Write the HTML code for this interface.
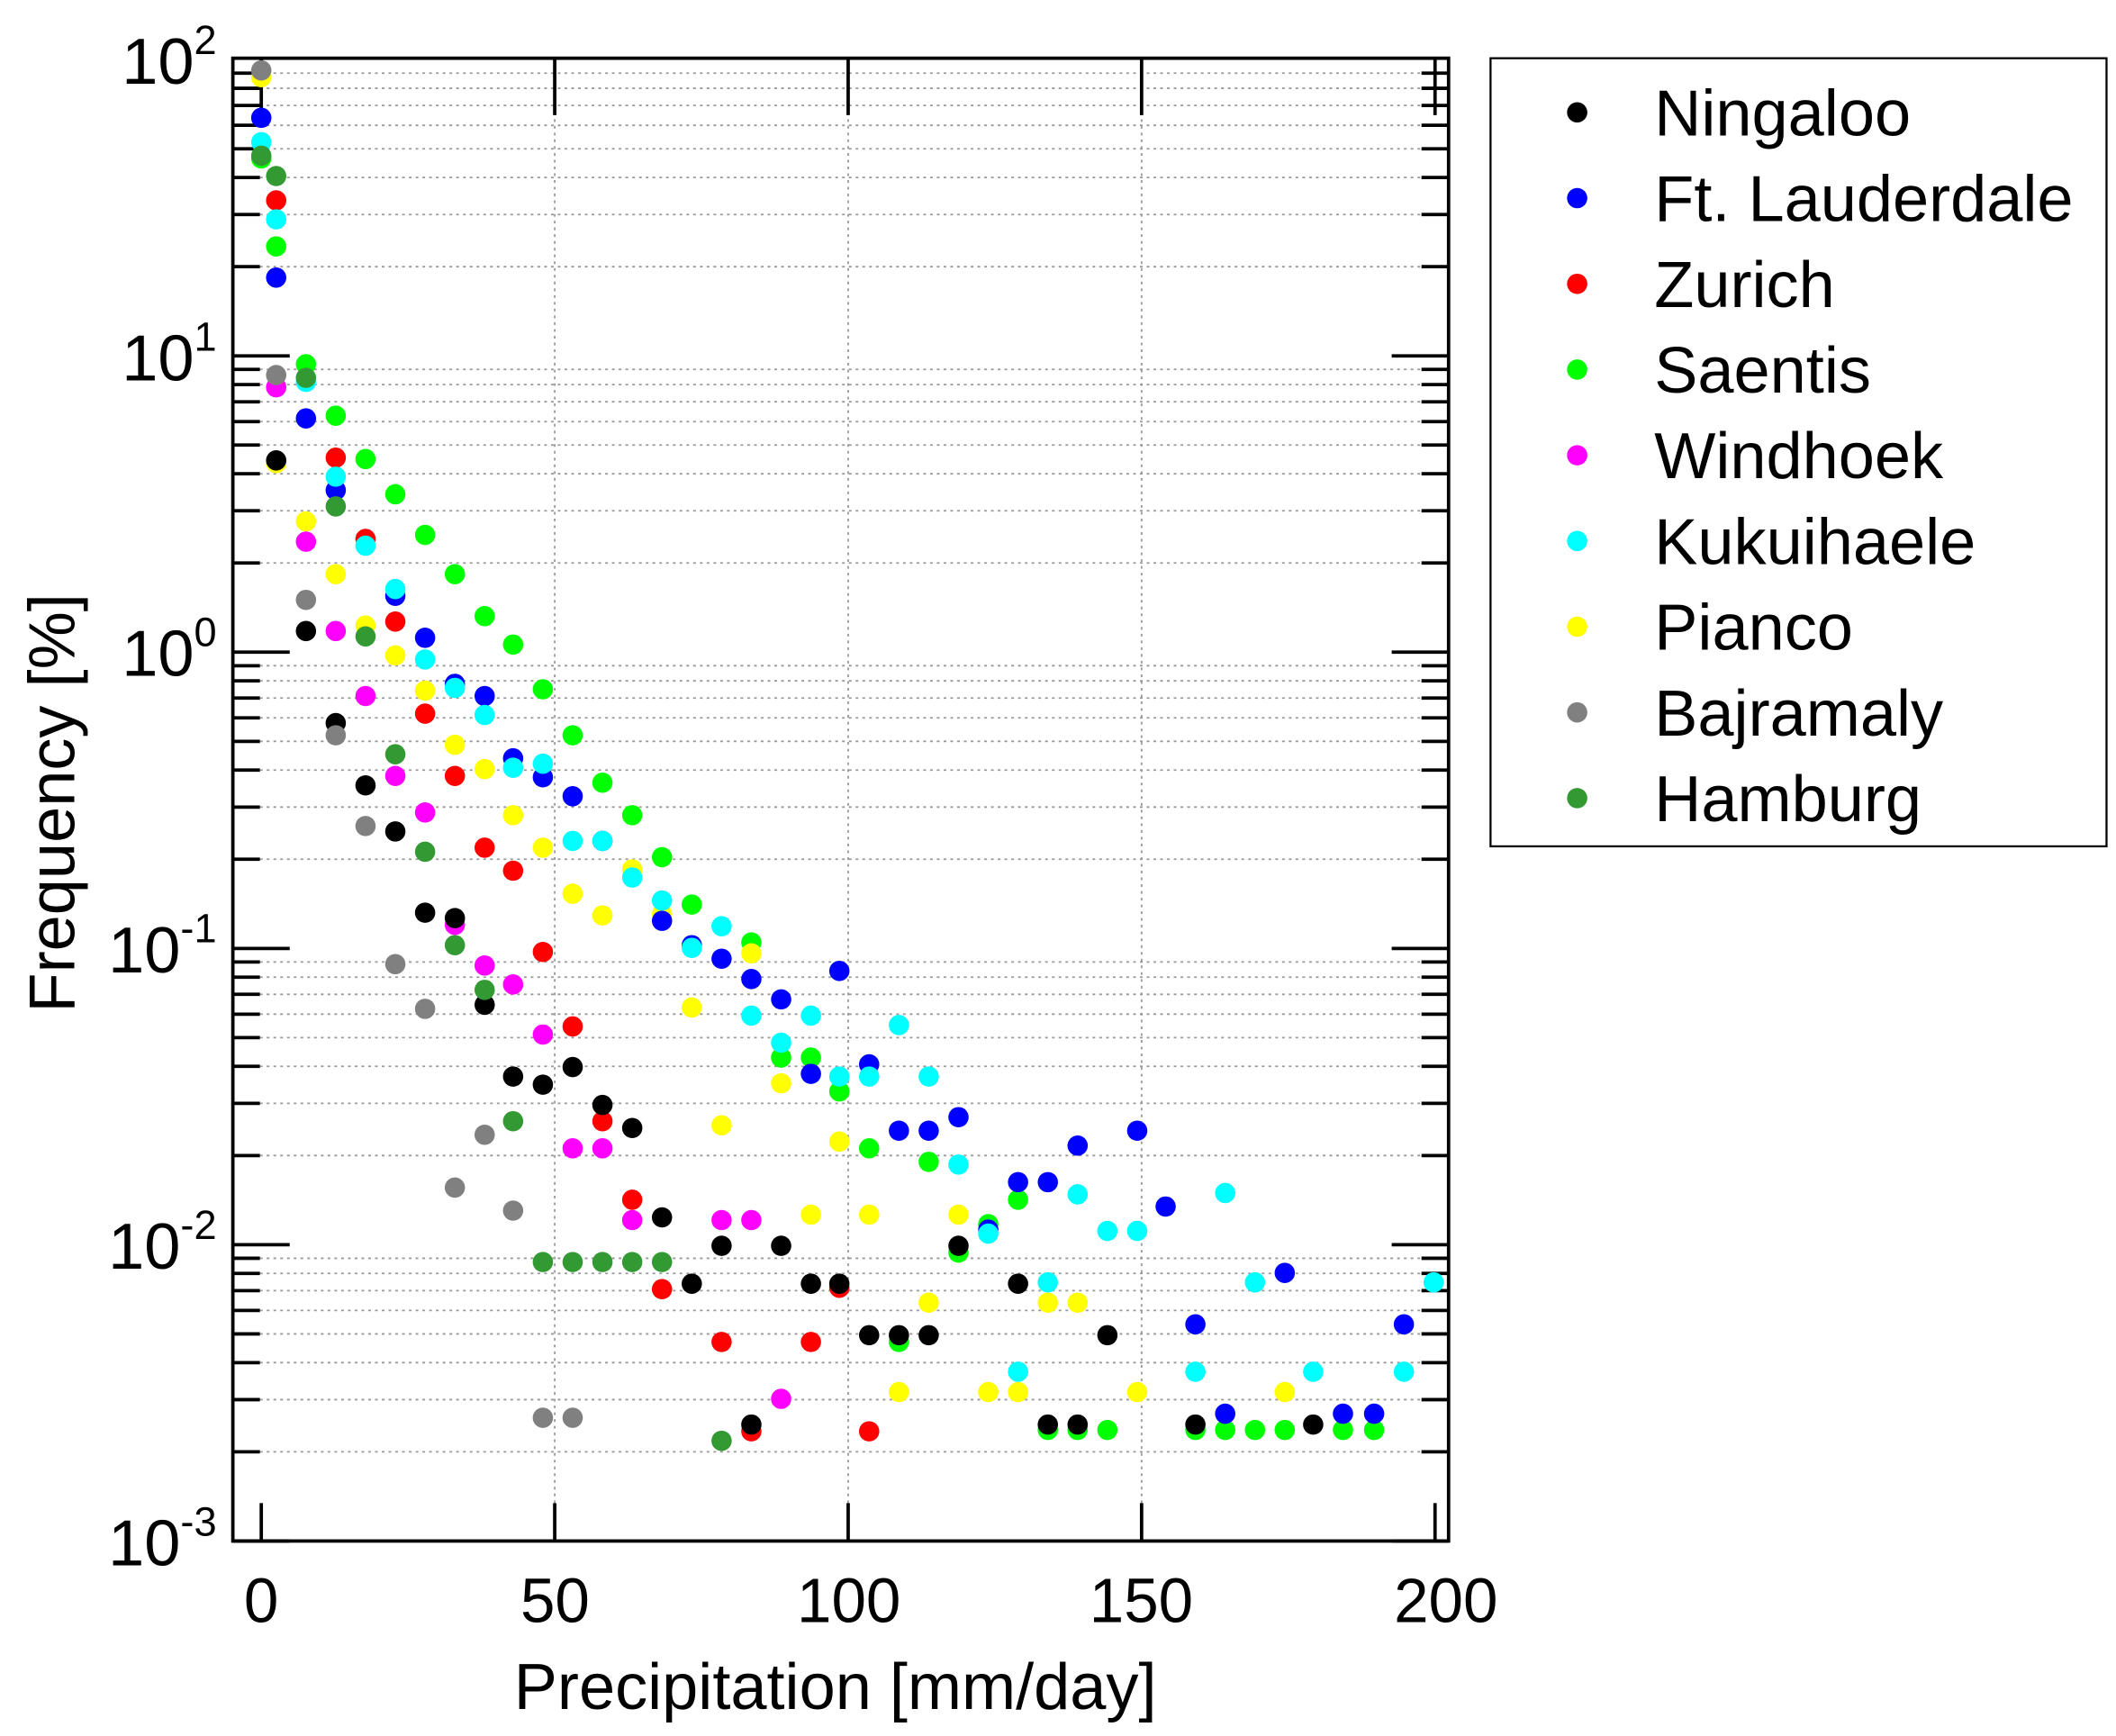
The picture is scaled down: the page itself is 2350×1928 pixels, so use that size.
<!DOCTYPE html>
<html><head><meta charset="utf-8"><style>html,body{margin:0;padding:0;background:#fff}svg{display:block}</style></head>
<body>
<svg width="2350" height="1928" viewBox="0 0 1563 1282" preserveAspectRatio="none" xmlns="http://www.w3.org/2000/svg" font-family="Liberation Sans, sans-serif">
<rect width="1563" height="1282" fill="#fff"/>
<g id="grid" stroke="#999" stroke-width="1.2" stroke-dasharray="2,3"></g>
<g id="ticks" stroke="#000" stroke-width="2.5"></g>
<rect x="172" y="43" width="898" height="1095" fill="none" stroke="#000" stroke-width="2.5"/>
<g id="pts"></g>
<g font-size="48" fill="#000" text-anchor="end">
<text x="160" y="62">10<tspan font-size="30" dy="-22">2</tspan></text>
<text x="160" y="281">10<tspan font-size="30" dy="-22">1</tspan></text>
<text x="160" y="499">10<tspan font-size="30" dy="-22">0</tspan></text>
<text x="160" y="718">10<tspan font-size="30" dy="-22">-1</tspan></text>
<text x="160" y="937">10<tspan font-size="30" dy="-22">-2</tspan></text>
<text x="160" y="1156">10<tspan font-size="30" dy="-22">-3</tspan></text>
</g>
<g font-size="46" fill="#000" text-anchor="middle">
<text x="193" y="1198">0</text><text x="410" y="1198">50</text><text x="627" y="1198">100</text><text x="843" y="1198">150</text><text x="1068" y="1198">200</text>
</g>
<text x="617" y="1262" font-size="48" text-anchor="middle">Precipitation [mm/day]</text>
<text transform="translate(55,593) rotate(-90)" font-size="48" text-anchor="middle">Frequency [%]</text>
<rect x="1101" y="43" width="455" height="582" fill="#fff" stroke="#000" stroke-width="1.5"/>
<g id="leg" font-size="48"></g>
<script>
var NS="http://www.w3.org/2000/svg";
function el(p,t,a){var e=document.createElementNS(NS,t);for(var k in a)e.setAttribute(k,a[k]);p.appendChild(e);return e;}
var g=document.getElementById('grid'),tk=document.getElementById('ticks');
function yv(v){return 1138-(Math.log10(v)+3)*218.8;}
[50,100,150].forEach(function(x){var px=193+x*4.335;el(g,'line',{x1:px,x2:px,y1:43,y2:1138});el(tk,'line',{x1:px,x2:px,y1:43,y2:85});el(tk,'line',{x1:px,x2:px,y1:1138,y2:1110});});
[0,200].forEach(function(x){var px=193+x*4.335;el(tk,'line',{x1:px,x2:px,y1:1138,y2:1110});el(tk,'line',{x1:px,x2:px,y1:43,y2:85});});
for(var d=-3;d<2;d++){for(var m=1;m<10;m++){var y=yv(m*Math.pow(10,d));if(m>1)el(g,'line',{x1:172,x2:1070,y1:y,y2:y});var L=m==1?42:20;el(tk,'line',{x1:172,x2:172+L,y1:y,y2:y});el(tk,'line',{x1:1070,x2:1070-L,y1:y,y2:y});}}
var S={
"#00ff00":[[193,117],[204,182],[226,269],[248,307],[270,339],[292,365],[314,395],[336,424],[358,455],[379,476],[401,509],[423,543],[445,578],[467,602],[489,633],[511,668],[555,696],[577,781],[599,781],[620,806],[642,848],[664,991],[686,858],[708,925],[730,904],[752,886],[774,1056],[796,1056],[818,1056],[883,1056],[905,1056],[927,1056],[949,1056],[992,1056],[1015,1056]],
"#ffff00":[[193,57],[204,342],[226,385],[248,424],[270,462],[292,484],[314,510],[336,550],[358,568],[379,602],[401,626],[423,660],[445,676],[467,642],[489,675],[511,744],[533,831],[555,704],[577,800],[599,897],[620,843],[642,897],[664,1028],[686,962],[708,897],[730,1028],[752,1028],[774,962],[796,962],[840,1028],[949,1028]],
"#ff00ff":[[204,286],[226,400],[248,466],[270,514],[292,573],[314,600],[336,683],[358,713],[379,727],[401,764],[423,848],[445,848],[467,901],[533,901],[555,901],[577,1033]],
"#ff0000":[[204,148],[248,338],[270,398],[292,459],[314,527],[336,573],[358,626],[379,643],[401,703],[423,758],[445,828],[467,886],[489,952],[533,991],[555,1057],[599,991],[620,951],[642,1057]],
"#0000ff":[[193,87],[204,205],[226,309],[248,362],[292,440],[314,471],[336,505],[358,514],[379,560],[401,574],[423,588],[445,621],[489,680],[511,698],[533,708],[555,723],[577,738],[599,793],[620,717],[642,786],[664,835],[686,835],[708,825],[730,908],[752,873],[774,873],[796,846],[840,835],[861,891],[883,978],[905,1044],[949,940],[1015,1044],[1037,978],[992,1044]],
"#00ffff":[[193,105],[204,162],[226,282],[248,352],[270,403],[292,435],[314,487],[336,508],[358,528],[379,567],[401,564],[423,621],[445,621],[467,648],[489,665],[511,700],[533,684],[555,750],[577,770],[599,750],[620,795],[642,795],[664,757],[686,795],[708,860],[730,911],[752,1013],[774,947],[796,882],[818,909],[840,909],[883,1013],[905,881],[927,947],[970,1013],[1037,1013],[1059,947]],
"#000000":[[204,340],[226,466],[248,534],[270,580],[292,614],[314,674],[336,678],[358,742],[379,795],[401,801],[423,788],[445,816],[467,833],[489,899],[511,948],[533,920],[555,1052],[577,920],[599,948],[620,948],[642,986],[664,986],[686,986],[708,920],[752,948],[774,1052],[796,1052],[818,986],[883,1052],[970,1052]],
"#808080":[[193,52],[204,277],[226,443],[248,543],[270,610],[292,712],[314,745],[336,877],[358,838],[379,894],[401,1047],[423,1047]],
"#339933":[[193,115],[204,130],[226,279],[248,374],[270,470],[292,557],[314,629],[336,698],[358,731],[379,828],[401,932],[423,932],[445,932],[467,932],[489,932],[533,1064]]};
var p=document.getElementById('pts');
for(var c in S)S[c].forEach(function(q){el(p,'circle',{cx:q[0],cy:q[1],r:7.5,fill:c});});
var lg=document.getElementById('leg');
[["Ningaloo","#000000"],["Ft. Lauderdale","#0000ff"],["Zurich","#ff0000"],["Saentis","#00ff00"],["Windhoek","#ff00ff"],["Kukuihaele","#00ffff"],["Pianco","#ffff00"],["Bajramaly","#808080"],["Hamburg","#339933"]].forEach(function(e,i){var y=83+i*63.3;el(lg,'circle',{cx:1165,cy:y,r:7.5,fill:e[1]});var t=el(lg,'text',{x:1222,y:y+17});t.textContent=e[0];});
</script>
</svg>
</body></html>
